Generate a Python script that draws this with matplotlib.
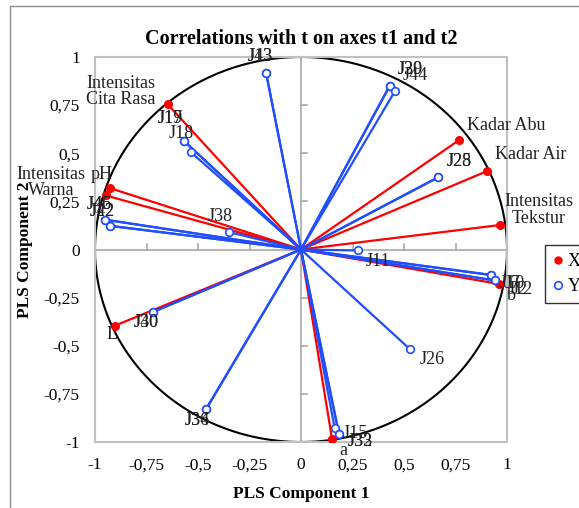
import numpy as np
import matplotlib
matplotlib.use("Agg")
import matplotlib.pyplot as plt
from matplotlib.lines import Line2D
from matplotlib.patches import Rectangle
from matplotlib.ticker import FuncFormatter

plt.rcParams['font.family'] = ['Liberation Serif', 'DejaVu Serif']

# X variables (red) - correlations with t1 / t2
x_names = ['Intensitas\nCita Rasa', 'pH', 'Intensitas\nWarna', 'Kadar Abu', 'Kadar Air',
           'Intensitas\nTekstur', 'L', 'a', 'b']
x_t1 = [-0.647, -0.928, -0.949, 0.768, 0.905, 0.965, -0.904, 0.151, 0.960]
x_t2 = [0.754, 0.319, 0.281, 0.569, 0.408, 0.127, -0.396, -0.986, -0.179]

# Y variables (blue)
y_names = ['J13', 'J43', 'J20', 'J39', 'J44', 'J25', 'J28', 'J17', 'J19', 'J18',
           'J45', 'J46', 'J42', 'J22', 'J38', 'J11', 'J10', 'J7', 'J12', 'J2',
           'J26', 'J15', 'J32', 'J33', 'J40', 'J30', 'J36', 'J34']
y_t1 = [-0.169, -0.169, 0.431, 0.431, 0.455, 0.666, 0.666, -0.566, -0.566, -0.536,
        -0.952, -0.952, -0.928, -0.928, -0.349, 0.276, 0.920, 0.920, 0.941, 0.941,
        0.528, 0.163, 0.184, 0.184, -0.719, -0.719, -0.460, -0.460]
y_t2 = [0.915, 0.915, 0.851, 0.851, 0.821, 0.375, 0.375, 0.562, 0.562, 0.507,
        0.155, 0.155, 0.123, 0.123, 0.090, -0.005, -0.132, -0.132, -0.161, -0.161,
        -0.517, -0.925, -0.957, -0.957, -0.325, -0.325, -0.828, -0.828]

# label offsets (points) and alignment
x_off = [(-8.6, 9.4), (-5.8, 10.1), (-14.4, 9.4), (5.8, 10.1), (5.8, 11.5),
         (28, 10.8), (-2.2, -6.5), (8, -8), (9.4, -8)]
x_ha = ['right', 'center', 'right', 'left', 'left', 'center', 'center', 'center', 'center']
y_off = [(-4.3, 12.2), (-4.3, 12.2), (15, 11.5), (15, 11.5), (15, 11.5), (15, 11.5), (15, 11.5),
         (-10, 16.6), (-10, 16.6), (-6.5, 13), (-4.3, 10.8), (-4.3, 10.8), (-5.8, 10), (-5.8, 10),
         (-6.5, 11.5), (14.4, -8), (15.8, -6.5), (15.8, -6.5), (18, -6.5), (18, -6.5),
         (15.8, -7.2), (15, -4.3), (15, -5.8), (15, -5.8), (-5, -7.2), (-5, -7.2), (-6.5, -8), (-6.5, -8)]

ticks = [-1, -0.75, -0.5, -0.25, 0, 0.25, 0.5, 0.75, 1]

red = '#ff0000'
blue = '#1f4dff'

fig = plt.figure(figsize=(5.79, 5.08), dpi=100)
ax = fig.add_axes([95 / 579, 1 - 442 / 508, 412 / 579, 385 / 508])

# outer frame of the figure
fig.add_artist(Rectangle((10 / 579, -0.1), 2, 1 - 6 / 508 + 0.1, transform=fig.transFigure,
                         fill=False, ec='#8c8c8c', lw=1))

ax.set_xlim(-1, 1)
ax.set_ylim(-1, 1)
for s in ax.spines.values():
    s.set_color('#c0c0c0')
    s.set_linewidth(1.5)

ax.axhline(0, color='#a8a8a8', lw=1.2, zorder=1)
ax.axvline(0, color='#a8a8a8', lw=1.2, zorder=1)
for t in ticks[1:-1]:
    if t != 0:
        ax.plot([t, t], [0, 0.03], color='#a8a8a8', lw=1.2, zorder=1)
        ax.plot([0, 0.03], [t, t], color='#a8a8a8', lw=1.2, zorder=1)

# correlation circle
th = np.linspace(0, 2 * np.pi, 400)
ax.plot(np.cos(th), np.sin(th), color='black', lw=1.5, zorder=2, clip_on=False)

for i in range(len(x_names)):
    ax.plot([0, x_t1[i]], [0, x_t2[i]], color=red, lw=1.6, zorder=3)
ax.plot(x_t1, x_t2, 'o', color=red, ms=5.5, zorder=4)

for i in range(len(y_names)):
    ax.plot([0, y_t1[i]], [0, y_t2[i]], color=blue, lw=1.6, zorder=3)
ax.plot(y_t1, y_t2, 'o', mfc='white', mec=blue, mew=1.2, ms=5.5, zorder=4)

for i, n in enumerate(x_names):
    ax.annotate(n, (x_t1[i], x_t2[i]), xytext=x_off[i], textcoords='offset points',
                ha=x_ha[i], va='center', multialignment='center', fontsize=13,
                linespacing=0.95, color='#222222', zorder=5)
for i, n in enumerate(y_names):
    ax.annotate(n, (y_t1[i], y_t2[i]), xytext=y_off[i], textcoords='offset points',
                ha='center', va='center', fontsize=13, color='#222222', zorder=5)

fmt = FuncFormatter(lambda v, p: ('%g' % v).replace('.', ','))
ax.set_xticks(ticks)
ax.set_yticks(ticks)
ax.xaxis.set_major_formatter(fmt)
ax.yaxis.set_major_formatter(fmt)
ax.tick_params(length=0, labelsize=12.5, pad=11)

ax.set_title('Correlations with t on axes t1 and t2', fontsize=14.5, fontweight='bold', pad=9)
ax.set_xlabel('PLS Component 1', fontsize=12.5, fontweight='bold', labelpad=9)
ax.set_ylabel('PLS Component 2', fontsize=12.5, fontweight='bold', labelpad=7.5)

handles = [Line2D([], [], marker='o', ls='none', color=red, ms=5),
           Line2D([], [], marker='o', ls='none', mfc='white', mec=blue, mew=1.2, ms=5.5)]
fig.legend(handles, ['X', 'Y'], loc='upper left', bbox_to_anchor=(545 / 579, 1 - 245 / 508),
           borderaxespad=0, frameon=True, fancybox=False, edgecolor='black', fontsize=13,
           handlelength=0.5, handletextpad=0.3, borderpad=0.45, labelspacing=0.45)

fig.savefig('out.png', dpi=100)
